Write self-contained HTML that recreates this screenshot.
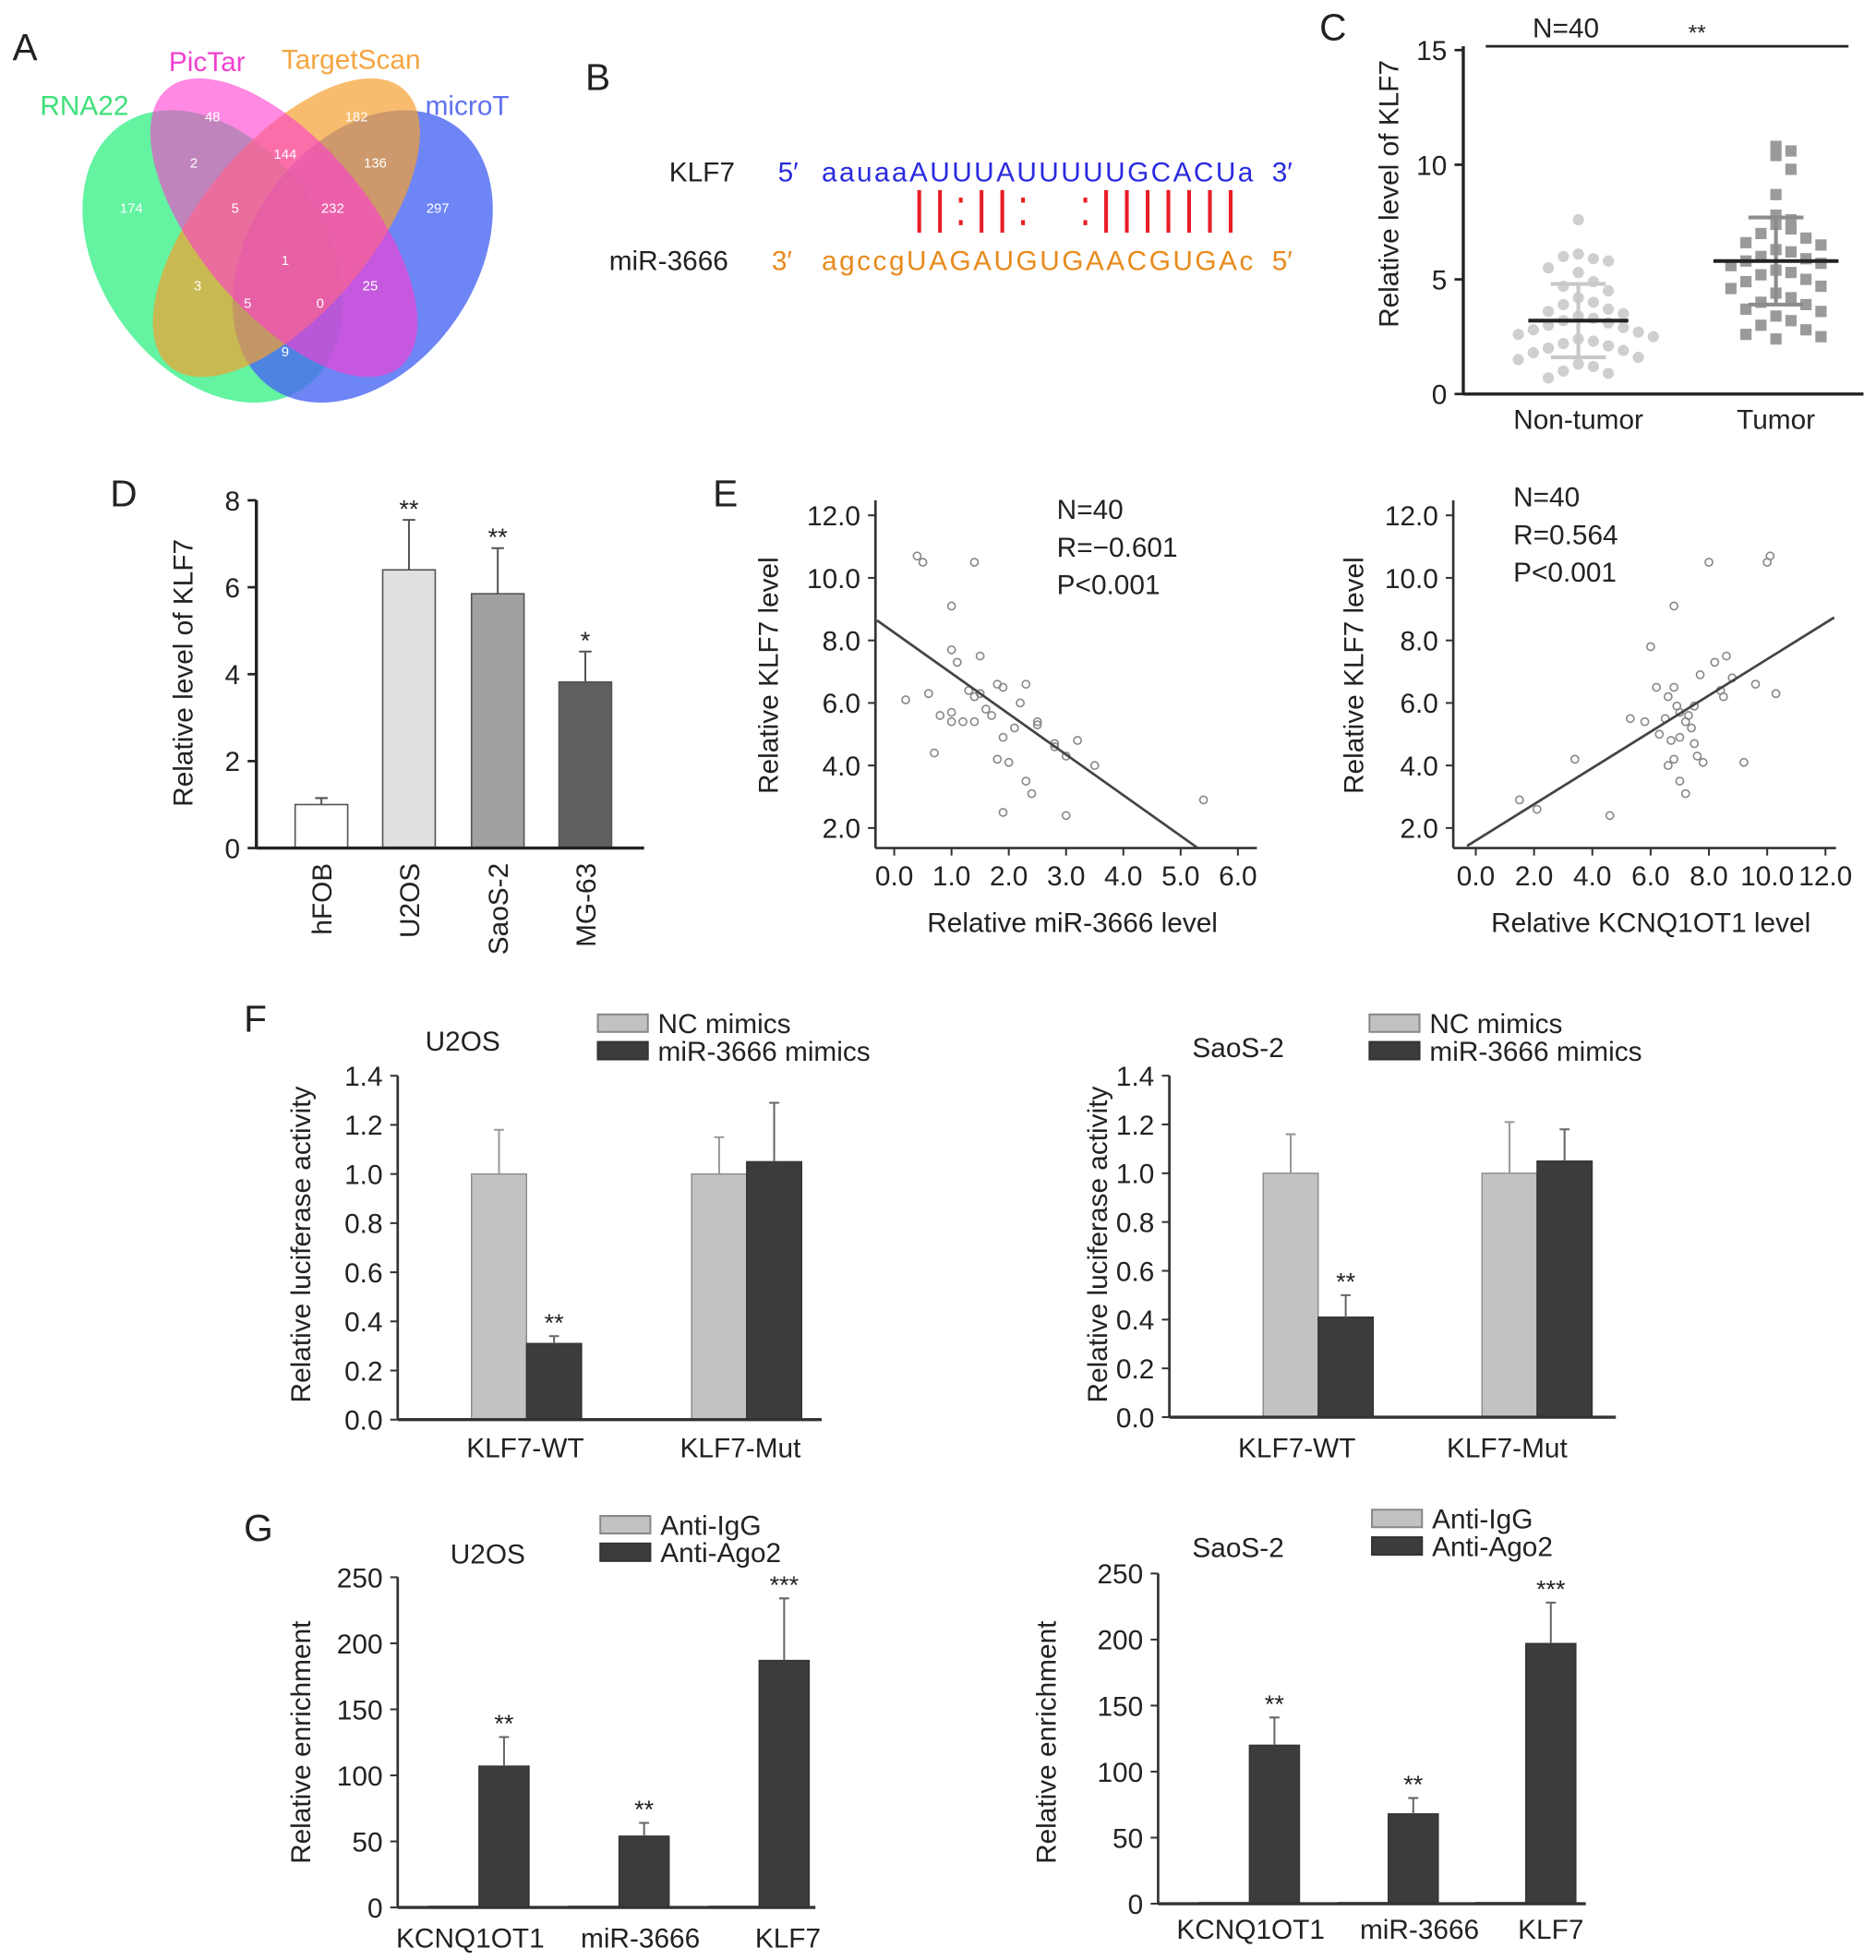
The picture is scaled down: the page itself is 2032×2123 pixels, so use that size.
<!DOCTYPE html>
<html><head><meta charset="utf-8"><style>
html,body{margin:0;padding:0;background:#fff}
svg{display:block}
text{font-family:"Liberation Sans",sans-serif;fill:#222}
</style></head><body>
<svg id="fig" width="2032" height="2123" viewBox="0 0 1500 1567" preserveAspectRatio="none" xmlns="http://www.w3.org/2000/svg">
<rect width="1500" height="1567" fill="#fff"/>
<g>
<text x="10" y="48" font-size="30">A</text>
<ellipse cx="170" cy="205" rx="90" ry="128" transform="rotate(-35 170 205)" fill="#3cf08a" opacity="0.8"/>
<ellipse cx="290" cy="205" rx="90" ry="128" transform="rotate(35 290 205)" fill="#4a66f2" opacity="0.8"/>
<ellipse cx="229" cy="182" rx="68" ry="145" transform="rotate(40 229 182)" fill="#f5a030" opacity="0.7"/>
<ellipse cx="227" cy="182" rx="68" ry="145" transform="rotate(-40 227 182)" fill="#ff3ad0" opacity="0.6"/>
<g font-size="11" text-anchor="middle">
<text x="170" y="97" style="fill:#fff">48</text><text x="285" y="97" style="fill:#fff">182</text>
<text x="155" y="134" style="fill:#fff">2</text><text x="228" y="127" style="fill:#fff">144</text><text x="300" y="134" style="fill:#fff">136</text>
<text x="105" y="170" style="fill:#fff">174</text><text x="188" y="170" style="fill:#fff">5</text><text x="266" y="170" style="fill:#fff">232</text><text x="350" y="170" style="fill:#fff">297</text>
<text x="228" y="212" style="fill:#fff">1</text><text x="158" y="232" style="fill:#fff">3</text><text x="296" y="232" style="fill:#fff">25</text>
<text x="198" y="246" style="fill:#fff">5</text><text x="256" y="246" style="fill:#fff">0</text><text x="228" y="285" style="fill:#fff">9</text>
</g>
<text x="32" y="92" font-size="22" style="fill:#3ee07a">RNA22</text>
<text x="135" y="57" font-size="22" style="fill:#f040d0">PicTar</text>
<text x="225" y="55" font-size="22" style="fill:#f5a540">TargetScan</text>
<text x="340" y="92" font-size="22" style="fill:#6070f0">microT</text>
</g>
<g>
<text x="468" y="72" font-size="30">B</text>
<text x="535" y="145" font-size="22">KLF7</text>
<text x="622" y="145" font-size="22" style="fill:#2a2ae0">5′</text>
<text x="657" y="145" font-size="22" textLength="345" style="fill:#2a2ae0">aauaaAUUUAUUUUUGCACUa</text>
<text x="1017" y="145" font-size="22" style="fill:#2a2ae0">3′</text>
<g id="pairs" stroke="#e81c24" stroke-width="3"></g>
<text x="487" y="216" font-size="22">miR-3666</text>
<text x="617" y="216" font-size="22" style="fill:#e88a1c">3′</text>
<text x="657" y="216" font-size="22" textLength="345" style="fill:#e88a1c">agccgUAGAUGUGAACGUGAc</text>
<text x="1017" y="216" font-size="22" style="fill:#e88a1c">5′</text>
</g>
<text x="1055" y="32" font-size="30">C</text>
<text x="88" y="405" font-size="30">D</text>
<text x="570" y="405" font-size="30">E</text>
<text x="195" y="825" font-size="30">F</text>
<text x="195" y="1232" font-size="30">G</text>
<g id="plots"></g>
</svg>
<script>
const NS='http://www.w3.org/2000/svg';
const root=document.getElementById('plots');
function mk(tag,attrs,parent,txt){const e=document.createElementNS(NS,tag);for(const k in attrs)e.setAttribute(k,attrs[k]);if(txt!==undefined)e.textContent=txt;(parent||root).appendChild(e);return e;}

const pairSymbols=['|','|',':','|','|',':',' ',' ',':','|','|','|','|','|','|','|'];
const pg=document.getElementById('pairs');
pairSymbols.forEach((s,i)=>{const x=735+i*16.6;
 if(s==='|'){const l=mk('line',{x1:x,x2:x,y1:152,y2:186},pg);}
 else if(s===':'){[160,178].forEach(y=>{const r=mk('rect',{x:x-1.5,y:y-2,width:3,height:4,fill:'#e81c24',stroke:'none'},pg);});}
});

const cGroups=['Non-tumor','Tumor'];
const cNonTumor=[7.6,6.1,5.9,6.0,5.8,5.3,5.5,4.9,4.7,4.5,4.2,4.0,3.9,3.7,3.6,3.5,3.4,3.3,3.2,3.1,3.0,2.9,2.8,2.7,2.6,2.5,2.4,2.3,2.2,2.1,2.0,1.9,1.8,1.6,1.5,1.3,1.2,1.0,0.9,0.7];
const cTumor=[10.8,10.6,10.4,9.8,8.7,7.8,7.6,7.4,7.2,7.0,6.8,6.6,6.5,6.3,6.2,6.0,5.9,5.8,5.7,5.6,5.4,5.3,5.2,5.0,4.9,4.7,4.6,4.4,4.2,4.0,3.9,3.7,3.6,3.4,3.2,3.0,2.8,2.6,2.5,2.4];
const cMean=[3.2,5.8], cSD=[1.6,1.9];
const cTicks=[0,5,10,15];
{
 const yC=v=>315-v*18.33; const xC=[1262,1420];
 const g=mk('g',{});
 let a=mk('line',{x1:1170,x2:1170,y1:37,y2:315,stroke:'#222','stroke-width':2.5},g);
 a=mk('line',{x1:1170,x2:1490,y1:315,y2:315,stroke:'#222','stroke-width':2.5},g);
 cTicks.forEach(t=>{const l=mk('text',{x:1157,y:yC(t)+8,'font-size':22,'text-anchor':'end'},g,String(t));
  const tk=mk('line',{x1:1163,x2:1170,y1:yC(t),y2:yC(t),stroke:'#222','stroke-width':2},g);});
 let t=mk('text',{x:0,y:0,'font-size':22,'text-anchor':'middle',transform:'translate(1118,155) rotate(-90)'},g,'Relative level of KLF7');
 let s=mk('line',{x1:1188,x2:1478,y1:37,y2:37,stroke:'#222','stroke-width':2},g);
 t=mk('text',{x:1252,y:30,'font-size':22,'text-anchor':'middle'},g,'N=40');
 t=mk('text',{x:1357,y:32,'font-size':18,'text-anchor':'middle'},g,'**');
 [cNonTumor,cTumor].forEach((arr,gi)=>{
  const cnt={};
  arr.forEach((v,i)=>{const b=Math.round(v);cnt[b]=(cnt[b]||0)+1;const k=cnt[b]-1;const off=(k%2?1:-1)*Math.ceil(k/2)*12;
   const cx=xC[gi]+off, cy=yC(v);
   let m;
   if(gi===0) m=mk('circle',{cx:cx,cy:cy,r:4.5,fill:'#cfcfcf'},g);
   else m=mk('rect',{x:cx-4.5,y:cy-4.5,width:9,height:9,fill:'#9a9a9a'},g);
   });
  const hw=gi===0?40:50;
  const ec=gi===0?'#c8c8c8':'#8c8c8c';
  let el=mk('line',{x1:xC[gi],x2:xC[gi],y1:yC(cMean[gi]-cSD[gi]),y2:yC(cMean[gi]+cSD[gi]),stroke:ec,'stroke-width':3},g);
  [cMean[gi]-cSD[gi],cMean[gi]+cSD[gi]].forEach(v=>{const c=mk('line',{x1:xC[gi]-22,x2:xC[gi]+22,y1:yC(v),y2:yC(v),stroke:ec,'stroke-width':3},g);});
  let ml=mk('line',{x1:xC[gi]-hw,x2:xC[gi]+hw,y1:yC(cMean[gi]),y2:yC(cMean[gi]),stroke:'#222','stroke-width':3},g);
  const lb=mk('text',{x:xC[gi],y:343,'font-size':22,'text-anchor':'middle'},g,cGroups[gi]);
 });
}

const dCats=['hFOB','U2OS','SaoS-2','MG-63'];
const dVals=[1.0,6.4,5.85,3.82];
const dErr=[0.15,1.15,1.05,0.7];
const dStars=['','**','**','*'];
const dTicks=[0,2,4,6,8];
{
 const y=v=>678-v*34.75; const cx=[257,327,398,468]; const fills=['#ffffff','#e0e0e0','#a0a0a0','#606060'];
 const g=mk('g',{});
 dVals.forEach((v,i)=>{
  const r=mk('rect',{x:cx[i]-21,y:y(v),width:42,height:y(0)-y(v),fill:fills[i],stroke:'#555','stroke-width':1.2},g);
  const e=mk('path',{d:`M${cx[i]},${y(v)}V${y(v+dErr[i])}M${cx[i]-5},${y(v+dErr[i])}H${cx[i]+5}`,stroke:'#555','stroke-width':1.5,fill:'none'},g);
  if(dStars[i]){const s=mk('text',{x:cx[i],y:y(v+dErr[i])-2,'font-size':20,'text-anchor':'middle'},g,dStars[i]);}
  const l=mk('text',{x:0,y:0,'font-size':22,'text-anchor':'end',transform:`translate(${cx[i]+8},690) rotate(-90)`},g,dCats[i]);
 });
 let a=mk('line',{x1:205,x2:205,y1:400,y2:678,stroke:'#222','stroke-width':2.5},g);
 a=mk('line',{x1:205,x2:515,y1:678,y2:678,stroke:'#222','stroke-width':2.5},g);
 dTicks.forEach(t=>{const l=mk('text',{x:192,y:y(t)+8,'font-size':22,'text-anchor':'end'},g,String(t));
  const tk=mk('line',{x1:198,x2:205,y1:y(t),y2:y(t),stroke:'#222','stroke-width':2},g);});
 const t=mk('text',{x:0,y:0,'font-size':22,'text-anchor':'middle',transform:'translate(154,538) rotate(-90)'},g,'Relative level of KLF7');
}

const eLeftX=[0.4,0.5,1.4,1.0,1.0,1.1,1.5,0.2,0.6,1.0,1.0,0.8,1.3,1.4,1.5,1.6,1.7,1.8,1.9,2.3,2.2,2.5,2.5,2.1,1.9,2.8,3.2,3.0,3.5,1.8,2.0,0.7,1.4,2.3,2.4,1.9,3.0,5.4,2.8,1.2];
const eLeftY=[10.7,10.5,10.5,9.1,7.7,7.3,7.5,6.1,6.3,5.7,5.4,5.6,6.4,6.2,6.3,5.8,5.6,6.6,6.5,6.6,6.0,5.4,5.3,5.2,4.9,4.6,4.8,4.3,4.0,4.2,4.1,4.4,5.4,3.5,3.1,2.5,2.4,2.9,4.7,5.4];
const eLeftFit=[8.25,-1.3];
const eRightX=[1.5,2.1,3.4,4.6,5.8,6.0,6.2,6.5,6.6,6.8,6.8,6.9,7.0,7.2,7.3,7.4,7.5,7.0,6.7,6.8,6.6,7.2,7.0,7.5,7.6,7.8,8.0,8.2,8.4,8.5,8.6,8.8,7.7,9.2,9.6,10.0,10.1,10.3,6.3,5.3];
const eRightY=[2.9,2.6,4.2,2.4,5.4,7.8,6.5,5.5,6.2,9.1,6.5,5.9,5.7,5.4,5.6,5.2,5.9,4.9,4.8,4.2,4.0,3.1,3.5,4.7,4.3,4.1,10.5,7.3,6.4,6.2,7.5,6.8,6.9,4.1,6.6,10.5,10.7,6.3,5.0,5.5];
const eRightFit=[1.6,0.58];
const eYTicks=[2,4,6,8,10,12];
const eLeftXTicks=[0,1,2,3,4,5,6];
const eRightXTicks=[0,2,4,6,8,10,12];
function scatterE(name,ax,x0px,xUnit,xMax,xs,ys,fit,fitRange,xTicks,xTitle,stats,statsX,statsY,yTitleX){
 const y=v=>662-(v-2)*25; const x=v=>x0px+v*xUnit;
 const g=mk('g',{});
 let a=mk('line',{x1:ax,x2:ax,y1:400,y2:678,stroke:'#333','stroke-width':2},g);
 a=mk('line',{x1:ax,x2:xMax,y1:678,y2:678,stroke:'#333','stroke-width':2},g);
 eYTicks.forEach(t=>{const l=mk('text',{x:ax-12,y:y(t)+8,'font-size':22,'text-anchor':'end'},g,t.toFixed(1));
  const tk=mk('line',{x1:ax-6,x2:ax,y1:y(t),y2:y(t),stroke:'#333','stroke-width':1.5},g);});
 xTicks.forEach(t=>{const l=mk('text',{x:x(t),y:708,'font-size':22,'text-anchor':'middle'},g,t.toFixed(1));
  const tk=mk('line',{x1:x(t),x2:x(t),y1:678,y2:684,stroke:'#333','stroke-width':1.5},g);});
 xs.forEach((v,i)=>{const c=mk('circle',{cx:x(v),cy:y(ys[i]),r:3,fill:'none',stroke:'#888','stroke-width':1.2},g);});
 const f=v=>fit[0]+fit[1]*v;
 const ln=mk('line',{x1:x(fitRange[0]),y1:y(f(fitRange[0])),x2:x(fitRange[1]),y2:y(f(fitRange[1])),stroke:'#444','stroke-width':2},g);
 stats.forEach((s,i)=>{const t=mk('text',{x:statsX,y:statsY+i*30,'font-size':22},g,s);});
 let t=mk('text',{x:(ax+xMax)/2+5,y:745,'font-size':22,'text-anchor':'middle'},g,xTitle);
 t=mk('text',{x:0,y:0,'font-size':22,'text-anchor':'middle',transform:`translate(${yTitleX},540) rotate(-90)`},g,'Relative KLF7 level');
}
scatterE('scatter-mir3666',700,715,45.8,1005,eLeftX,eLeftY,eLeftFit,[-0.3,5.3],eLeftXTicks,'Relative miR-3666 level',['N=40','R=−0.601','P<0.001'],845,415,622);
scatterE('scatter-kcnq1ot1',1162,1180,23.3,1468,eRightX,eRightY,eRightFit,[-0.3,12.3],eRightXTicks,'Relative KCNQ1OT1 level',['N=40','R=0.564','P<0.001'],1210,405,1090);

const fCats=['KLF7-WT','KLF7-Mut'];
const fU2osNC=[1.0,1.0], fU2osMimic=[0.31,1.05];
const fU2osNCErr=[0.18,0.15], fU2osMimicErr=[0.03,0.24];
const fSaosNC=[1.0,1.0], fSaosMimic=[0.41,1.05];
const fSaosNCErr=[0.16,0.21], fSaosMimicErr=[0.09,0.13];
const fStarsU2os=['','**','',''], fStarsSaos=['','**','',''];
const fTicks=[0,0.2,0.4,0.6,0.8,1.0,1.2,1.4];
const gCats=['KCNQ1OT1','miR-3666','KLF7'];
const gU2osIgG=[1,1,1], gU2osAgo=[107,54,187];
const gU2osAgoErr=[22,10,47];
const gSaosIgG=[1,1,1], gSaosAgo=[120,68,197];
const gSaosAgoErr=[21,12,31];
const gStarsU2os=['**','**','***'], gStarsSaos=['**','**','***'];
const gTicks=[0,50,100,150,200,250];

function grouped(o){
 const y=v=>o.y0-(v-0)*o.scale;
 const g=mk('g',{});
 o.cats.forEach((c,i)=>{
  const ctr=o.centers[i];
  [[o.s1,o.e1,o.c1,'bar-'+o.l1],[o.s2,o.e2,o.c2,'bar-'+o.l2]].forEach((sr,j)=>{
   const vals=sr[0]; const v=vals[i]; const bx=ctr-o.bw+j*o.bw;
   const r=mk('rect',{x:bx,y:y(v),width:o.bw,height:Math.max(0.5,y(0)-y(v)),fill:sr[2],stroke:j===0?'#888':'#333','stroke-width':1},g);
   if(sr[1]){const e=sr[1][i];const ex=bx+o.bw/2;
    const p=mk('path',{d:`M${ex},${y(v)}V${y(v+e)}M${ex-4},${y(v+e)}H${ex+4}`,stroke:j===0?'#999':'#666','stroke-width':1.5,fill:'none'},g);
    const st=o.stars.length===4?o.stars[i*2+j]:(j===1?o.stars[i]:'');
    if(st){const s=mk('text',{x:ex,y:y(v+e)-4,'font-size':20,'text-anchor':'middle'},g,st);}
   }
  });
  const l=mk('text',{x:o.labelX[i],y:o.labelY,'font-size':22,'text-anchor':'middle'},g,c);
 });
 let a=mk('line',{x1:o.ax,x2:o.ax,y1:y(o.ticks[o.ticks.length-1]),y2:y(0),stroke:'#333','stroke-width':2},g);
 a=mk('line',{x1:o.ax,x2:o.xEnd,y1:y(0),y2:y(0),stroke:'#333','stroke-width':2.5},g);
 o.ticks.forEach(t=>{const l=mk('text',{x:o.ax-12,y:y(t)+8,'font-size':22,'text-anchor':'end'},g,o.fmt(t));
  const tk=mk('line',{x1:o.ax-6,x2:o.ax,y1:y(t),y2:y(t),stroke:'#333','stroke-width':1.5},g);});
 let t=mk('text',{x:0,y:0,'font-size':22,'text-anchor':'middle',transform:`translate(${o.ytX},${o.ytY}) rotate(-90)`},g,o.yTitle);
 t=mk('text',{x:o.titleX,y:o.titleY,'font-size':22,'text-anchor':'middle'},g,o.title);
 [[o.l1,o.c1,'#888'],[o.l2,o.c2,'#333']].forEach((L,k)=>{
  const r=mk('rect',{x:o.legX,y:o.legY+k*22,width:40,height:14,fill:L[1],stroke:L[2],'stroke-width':1.5},g);
  const lt=mk('text',{x:o.legX+48,y:o.legY+k*22+15,'font-size':22},g,L[0]);
 });
}
const fmt1=t=>t.toFixed(1), fmt0=t=>String(t);
grouped({name:'luciferase-u2os',cats:fCats,centers:[421,597],bw:44,y0:1135,scale:196.4,s1:fU2osNC,e1:fU2osNCErr,s2:fU2osMimic,e2:fU2osMimicErr,c1:'#c2c2c2',c2:'#3c3c3c',l1:'NC mimics',l2:'miR-3666 mimics',stars:fStarsU2os,ticks:fTicks,fmt:fmt1,ax:318,xEnd:657,labelX:[420,592],labelY:1165,ytX:248,ytY:995,yTitle:'Relative luciferase activity',title:'U2OS',titleX:370,titleY:840,legX:478,legY:811});
grouped({name:'luciferase-saos2',cats:fCats,centers:[1054,1229],bw:44,y0:1133,scale:195,s1:fSaosNC,e1:fSaosNCErr,s2:fSaosMimic,e2:fSaosMimicErr,c1:'#c2c2c2',c2:'#3c3c3c',l1:'NC mimics',l2:'miR-3666 mimics',stars:fStarsSaos,ticks:fTicks,fmt:fmt1,ax:935,xEnd:1292,labelX:[1037,1205],labelY:1165,ytX:885,ytY:995,yTitle:'Relative luciferase activity',title:'SaoS-2',titleX:990,titleY:845,legX:1095,legY:811});
grouped({name:'rip-u2os',cats:gCats,centers:[383,495,607],bw:40,y0:1525,scale:1.056,s1:gU2osIgG,e1:null,s2:gU2osAgo,e2:gU2osAgoErr,c1:'#c2c2c2',c2:'#3c3c3c',l1:'Anti-IgG',l2:'Anti-Ago2',stars:gStarsU2os,ticks:gTicks,fmt:fmt0,ax:318,xEnd:652,labelX:[376,512,630],labelY:1557,ytX:248,ytY:1393,yTitle:'Relative enrichment',title:'U2OS',titleX:390,titleY:1250,legX:480,legY:1212});
grouped({name:'rip-saos2',cats:gCats,centers:[999,1110,1220],bw:40,y0:1522,scale:1.056,s1:gSaosIgG,e1:null,s2:gSaosAgo,e2:gSaosAgoErr,c1:'#c2c2c2',c2:'#3c3c3c',l1:'Anti-IgG',l2:'Anti-Ago2',stars:gStarsSaos,ticks:gTicks,fmt:fmt0,ax:926,xEnd:1268,labelX:[1000,1135,1240],labelY:1550,ytX:844,ytY:1393,yTitle:'Relative enrichment',title:'SaoS-2',titleX:990,titleY:1245,legX:1097,legY:1207});
</script>
</body></html>
